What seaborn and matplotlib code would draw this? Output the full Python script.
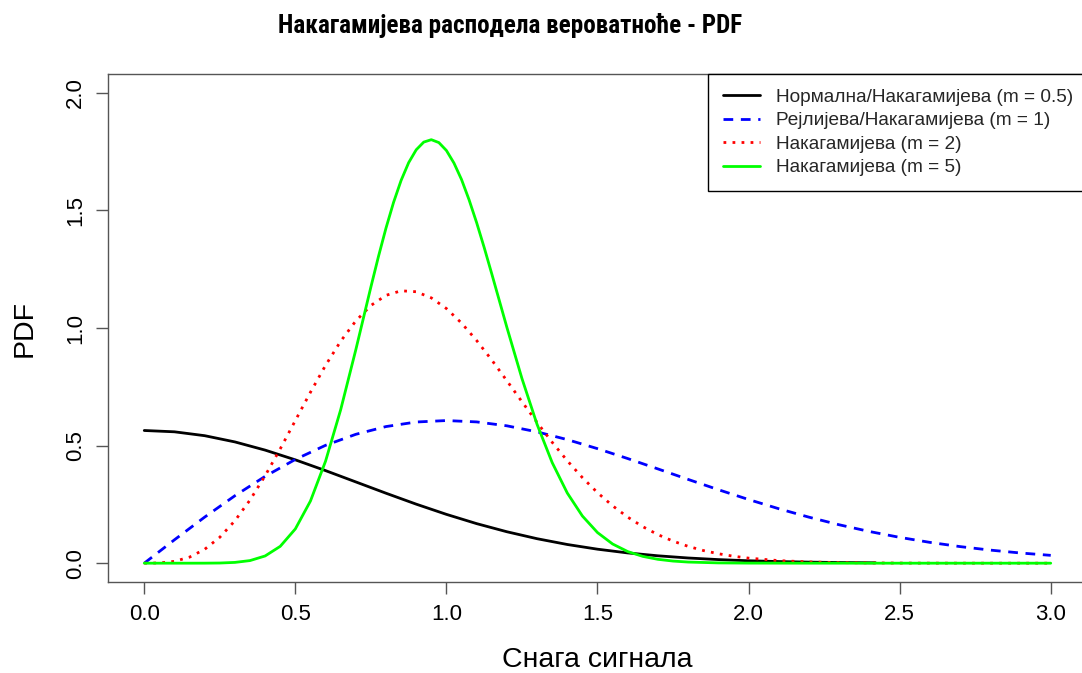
import matplotlib
matplotlib.use("Agg")
import matplotlib.pyplot as plt
from matplotlib import font_manager
import seaborn as sns

# Nakagami-family probability densities, tabulated
x_m05 = [0.0, 0.1, 0.2, 0.3, 0.4, 0.5, 0.6, 0.7, 0.8, 0.9, 1.0, 1.1, 1.2,
         1.3, 1.4, 1.5, 1.6, 1.7, 1.8, 1.9, 2.0, 2.1, 2.2, 2.3, 2.4, 2.42]
pdf_m05 = [0.5642, 0.5586, 0.5421, 0.5156, 0.4808, 0.4394, 0.3936, 0.3456,
           0.2975, 0.2510, 0.2076, 0.1682, 0.1337, 0.1041, 0.0795, 0.0595,
           0.0436, 0.0314, 0.0221, 0.0153, 0.0103, 0.0069, 0.0045, 0.0028,
           0.0018, 0.0016]

x_m1 = [0.0, 0.1, 0.2, 0.3, 0.4, 0.5, 0.6, 0.7, 0.8, 0.9, 1.0, 1.1, 1.2,
        1.3, 1.4, 1.5, 1.6, 1.7, 1.8, 1.9, 2.0, 2.1, 2.2, 2.3, 2.4, 2.5,
        2.6, 2.7, 2.8, 2.9, 3.0]
pdf_m1 = [0.0, 0.0995, 0.1960, 0.2868, 0.3692, 0.4412, 0.5012, 0.5479,
          0.5809, 0.6003, 0.6065, 0.6007, 0.5841, 0.5584, 0.5254, 0.4870,
          0.4449, 0.4008, 0.3562, 0.3125, 0.2707, 0.2315, 0.1956, 0.1633,
          0.1347, 0.1098, 0.0885, 0.0705, 0.0556, 0.0433, 0.0333]

x_m2 = [0.0, 0.05, 0.1, 0.15, 0.2, 0.25, 0.3, 0.35, 0.4, 0.45, 0.5, 0.55,
        0.6, 0.65, 0.7, 0.75, 0.8, 0.85, 0.9, 0.95, 1.0, 1.05, 1.1, 1.15,
        1.2, 1.25, 1.3, 1.35, 1.4, 1.45, 1.5, 1.55, 1.6, 1.65, 1.7, 1.75,
        1.8, 1.85, 1.9, 1.95, 2.0, 2.1, 2.2, 2.3, 2.4, 2.5, 2.6, 2.7, 2.8,
        2.9, 3.0]
pdf_m2 = [0.0, 0.0010, 0.0078, 0.0258, 0.0591, 0.1103, 0.1804, 0.2685,
          0.3718, 0.4862, 0.6065, 0.7268, 0.8411, 0.9437, 1.0299, 1.0957,
          1.1389, 1.1582, 1.1542, 1.1281, 1.0827, 1.0210, 0.9468, 0.8640,
          0.7759, 0.6866, 0.5985, 0.5141, 0.4355, 0.3639, 0.2999, 0.2440,
          0.1958, 0.1552, 0.1214, 0.0938, 0.0716, 0.0539, 0.0402, 0.0295,
          0.0215, 0.0109, 0.0053, 0.0025, 0.0011, 0.0005, 0.0002, 0.0001,
          0.0, 0.0, 0.0]

x_m5 = [0.0, 0.05, 0.1, 0.15, 0.2, 0.25, 0.3, 0.35, 0.4, 0.45, 0.5, 0.55,
        0.6, 0.65, 0.7, 0.75, 0.775, 0.8, 0.825, 0.85, 0.875, 0.9, 0.925,
        0.95, 0.975, 1.0, 1.025, 1.05, 1.075, 1.1, 1.125, 1.15, 1.175,
        1.2, 1.25, 1.3, 1.35, 1.4, 1.45, 1.5, 1.55, 1.6, 1.65, 1.7, 1.75,
        1.8, 1.9, 2.0, 2.2, 2.4, 2.6, 2.8, 3.0]
pdf_m5 = [0.0, 0.0, 0.0, 0.0, 0.0001, 0.0007, 0.0033, 0.0111, 0.0307,
          0.0716, 0.1457, 0.2643, 0.4338, 0.6523, 0.9069, 1.1742, 1.3036,
          1.4248, 1.5339, 1.6275, 1.7030, 1.7577, 1.7905, 1.8007, 1.7884,
          1.7547, 1.7013, 1.6313, 1.5450, 1.4479, 1.3421, 1.2306, 1.1170,
          1.0032, 0.7851, 0.5903, 0.4278, 0.2984, 0.2006, 0.1302, 0.0816,
          0.0494, 0.0289, 0.0164, 0.0090, 0.0048, 0.0012, 0.0003, 0.0, 0.0,
          0.0, 0.0, 0.0]

series_labels = ["Нормална/Накагамијева (m = 0.5)",
                 "Рејлијева/Накагамијева (m = 1)",
                 "Накагамијева (m = 2)",
                 "Накагамијева (m = 5)"]
series_colors = ["black", "blue", "red", "#00ff00"]
series_dashes = [None, (7.0, 5.5), (2.0, 4.5), None]

x_ticks = [0.0, 0.5, 1.0, 1.5, 2.0, 2.5, 3.0]
y_ticks = [0.0, 0.5, 1.0, 1.5, 2.0]

title_text = "Накагамијева расподела вероватноће - PDF"
x_label = "Снага сигнала"
y_label = "PDF"

sns.set_theme(style="white")
plt.rcParams["font.family"] = ["Liberation Sans", "DejaVu Sans"]
plt.rcParams["lines.scale_dashes"] = False

# heading face: a condensed family when one is installed
installed = {f.name for f in font_manager.fontManager.ttflist}
title_family = ["Liberation Sans", "DejaVu Sans"]
for cand in ["Liberation Sans Narrow", "Arial Narrow", "Roboto Condensed",
             "Open Sans Condensed"]:
    if cand in installed:
        title_family = [cand] + title_family
        break

W, H = 1082, 673
fig = plt.figure(figsize=(W / 100, H / 100), dpi=100)
fig.patch.set_facecolor("white")
ax = fig.add_axes([108 / W, 91 / H, 979 / W, 508 / H])
ax.set_facecolor("white")

curves = [(x_m05, pdf_m05), (x_m1, pdf_m1), (x_m2, pdf_m2), (x_m5, pdf_m5)]
for (xs, ys), lab, col, dsh in zip(curves, series_labels, series_colors, series_dashes):
    sns.lineplot(x=xs, y=ys, ax=ax, color=col, linewidth=2.0, label=lab,
                 sort=False, estimator=None, errorbar=None)
    line = ax.lines[-1]
    if dsh is None:
        line.set_linestyle("-")
    else:
        line.set_dashes(dsh)
        line.set_dash_capstyle("butt")

ax.set_xlim(-0.12, 3.12)
ax.set_ylim(-0.08, 2.08)
ax.set_xticks(x_ticks)
ax.set_xticklabels([f"{v:.1f}" for v in x_ticks])
ax.set_yticks(y_ticks)
ax.set_yticklabels([f"{v:.1f}" for v in y_ticks])

for sp in ax.spines.values():
    sp.set_visible(True)
    sp.set_color("#555555")
    sp.set_linewidth(1.0)

ax.tick_params(axis="both", which="major", direction="out", length=8.6,
               width=1.0, color="#555555", labelsize=16, labelcolor="black",
               pad=7, bottom=True, left=True)
ax.tick_params(axis="y", labelrotation=90)
for lbl in ax.get_yticklabels():
    lbl.set_va("center")

ax.set_xlabel(x_label, fontsize=20.5, color="black")
ax.xaxis.set_label_coords(0.5, -0.1535)
ax.xaxis.label.set_va("center")
ax.set_ylabel(y_label, fontsize=20.5, color="black")
ax.yaxis.set_label_coords(-0.0848, 0.5)
ax.yaxis.label.set_va("center")

title = fig.text(510 / W, 1 - 25 / H, title_text, ha="center", va="center",
                 fontsize=20, fontweight="bold", family=title_family,
                 color="black")
# size the heading to span 464 px
renderer = fig.canvas.get_renderer()
tw = title.get_window_extent(renderer).width
title.set_fontsize(20 * 464.0 / tw)

leg = ax.legend(loc="upper right", borderaxespad=0, frameon=True,
                fancybox=False, shadow=False, edgecolor="black",
                framealpha=1.0, fontsize=13.7, handlelength=1.95,
                handletextpad=0.84, labelspacing=0.33, borderpad=0.75)
leg.get_frame().set_linewidth(1.0)

fig.savefig("out.png", dpi=100, facecolor="white")
